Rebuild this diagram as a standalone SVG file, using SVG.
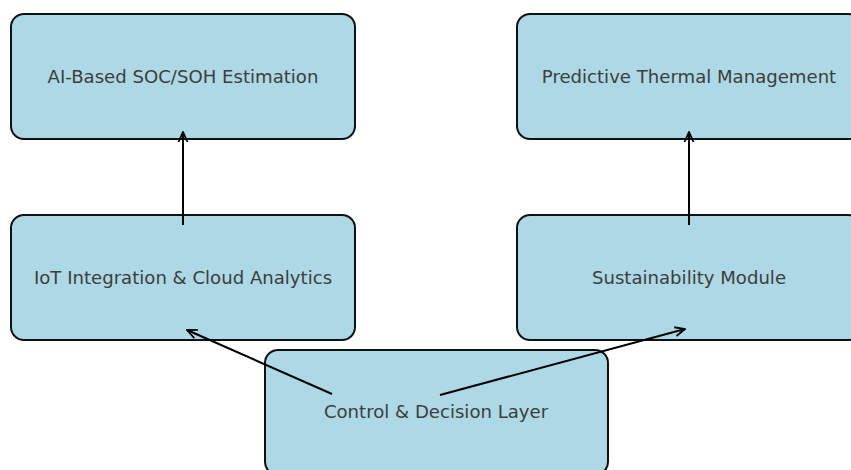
<svg xmlns="http://www.w3.org/2000/svg" width="851" height="470" viewBox="0 0 851 470">
<style>
.box{fill:#add8e6;stroke:#111;stroke-width:2}
.lbl{font-family:"DejaVu Sans",sans-serif;font-size:18.1px;fill:#3d3d3d;text-anchor:middle;dominant-baseline:central}
.edge{stroke:#000;stroke-width:2;fill:none;marker-end:url(#ah)}
</style>
<defs>
<marker id="ah" viewBox="0 0 12 12" refX="11" refY="6" markerWidth="12" markerHeight="12" markerUnits="userSpaceOnUse" orient="auto">
<path d="M1,1.5 L11,6 L1,10.5" fill="none" stroke="#000" stroke-width="1.8"/>
</marker>
</defs>
<rect width="851" height="470" fill="#fff"/>
<g id="n-soc"><rect class="box" x="11" y="14" width="344" height="125" rx="13"/><text class="lbl" x="183" y="76">AI-Based SOC/SOH Estimation</text></g>
<g id="n-thermal"><rect class="box" x="517" y="14" width="344" height="125" rx="13"/><text class="lbl" x="689" y="76">Predictive Thermal Management</text></g>
<g id="n-iot"><rect class="box" x="11" y="215" width="344" height="125" rx="13"/><text class="lbl" x="183" y="277">IoT Integration &amp; Cloud Analytics</text></g>
<g id="n-sus"><rect class="box" x="517" y="215" width="344" height="125" rx="13"/><text class="lbl" x="689" y="277">Sustainability Module</text></g>
<g id="n-ctrl"><rect class="box" x="265" y="350" width="343" height="125" rx="13"/><text class="lbl" x="436" y="411">Control &amp; Decision Layer</text></g>
<g id="edges">
<line class="edge" x1="183" y1="225" x2="183" y2="132"/>
<line class="edge" x1="689" y1="225" x2="689" y2="132"/>
<line class="edge" x1="332" y1="394" x2="187" y2="330"/>
<line class="edge" x1="440" y1="395" x2="685" y2="329"/>
</g>
</svg>
